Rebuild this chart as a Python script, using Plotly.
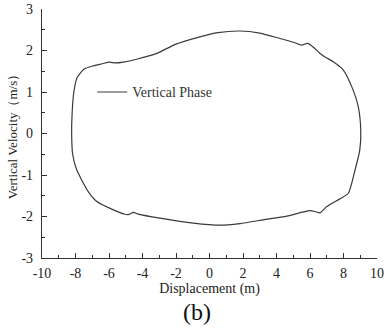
import plotly.graph_objects as go

# Phase trajectory (displacement m, vertical velocity m/s)
disp = [-8.23, -8.2, -8.1, -7.9, -7.5, -6.94, -6.4, -6.0, -5.6, -5.15, -4.35, -3.15,
        -1.96, -0.57, 0.5, 1.8, 3.0, 4.21, 5.0, 5.5, 5.85, 6.2, 6.6, 7.0, 7.39, 7.99,
        8.49, 8.88, 9.03, 8.97, 8.69, 8.29, 7.9, 7.59, 7.0, 6.6, 6.3, 6.0, 5.6, 4.61,
        3.21, 1.82, 0.63, -0.97, -2.96, -4.2, -4.55, -4.8, -5.1, -5.74, -6.73, -7.24,
        -7.63, -7.95, -8.17, -8.23]
vel = [0.0, 0.5, 1.0, 1.35, 1.55, 1.63, 1.68, 1.72, 1.70, 1.72, 1.79, 1.93,
       2.16, 2.33, 2.43, 2.47, 2.42, 2.29, 2.2, 2.13, 2.17, 2.08, 1.93, 1.82, 1.73, 1.53,
       1.13, 0.65, 0.08, -0.40, -0.88, -1.44, -1.55, -1.62, -1.76, -1.91, -1.88, -1.86, -1.89, -1.99,
       -2.08, -2.17, -2.21, -2.16, -2.04, -1.95, -1.90, -1.95, -1.94, -1.84, -1.64, -1.40,
       -1.12, -0.85, -0.5, 0.0]

x_ticks = [-10, -8, -6, -4, -2, 0, 2, 4, 6, 8, 10]
x_labels = ["-10", "-8", "-6", "-4", "-2", "0", "2", "4", "6", "8", "10"]
y_ticks = [-3, -2, -1, 0, 1, 2, 3]
y_labels = ["-3", "-2", "-1", "0", "1", "2", "3"]

serif = "Liberation Serif, Times New Roman, serif"

fig = go.Figure()
fig.add_trace(go.Scatter(x=disp, y=vel, mode="lines", name="Vertical Phase",
                         line=dict(color="#3a3a3a", width=1.2, shape="spline", smoothing=0.6)))

axis_common = dict(showline=True, linecolor="#333333", linewidth=1.3, ticks="inside",
                   ticklen=5, tickwidth=1.2, tickcolor="#333333", showgrid=False,
                   zeroline=False, mirror=False, automargin=False,
                   tickfont=dict(family=serif, size=14, color="#222222"))

fig.update_layout(
    width=386, height=329,
    margin=dict(l=42, r=9, t=9, b=71),
    paper_bgcolor="white", plot_bgcolor="white",
    showlegend=True,
    legend=dict(x=0.15, y=0.665, xanchor="left", yanchor="middle",
                bgcolor="rgba(0,0,0,0)", font=dict(family=serif, size=14, color="#333333")),
    xaxis=dict(range=[-10, 10], tickvals=x_ticks, ticktext=x_labels, ticklabelstandoff=2,
               title=dict(text="Displacement (m)", font=dict(family=serif, size=14, color="#222222"), standoff=1),
               minor=dict(ticks="inside", ticklen=3, tickcolor="#333333", dtick=1),
               **axis_common),
    yaxis=dict(range=[-3, 3], tickvals=y_ticks, ticktext=y_labels, ticklabelstandoff=5,
               title=dict(text="Vertical Velocity（m/s）", font=dict(family=serif, size=13, color="#222222"), standoff=0),
               minor=dict(ticks="inside", ticklen=3, tickcolor="#333333", dtick=0.5),
               **axis_common),
)

fig.add_annotation(text="(b)", x=0.463, y=-0.217, xref="paper", yref="paper",
                   showarrow=False, font=dict(family=serif, size=24, color="#111111"),
                   xanchor="center", yanchor="middle")

fig.write_html("out.html")
